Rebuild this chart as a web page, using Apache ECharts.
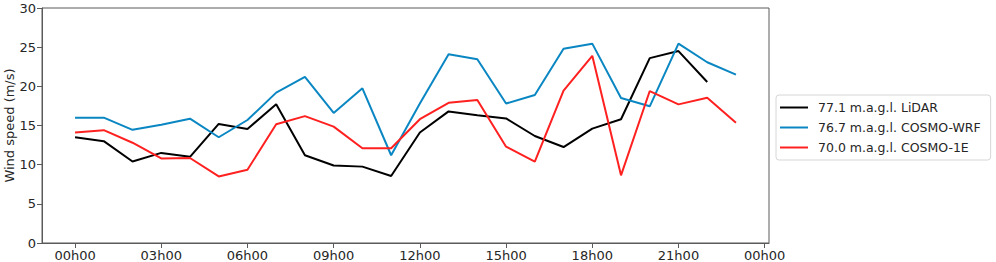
<!DOCTYPE html>
<html>
<head>
<meta charset="utf-8">
<script src="https://cdn.jsdelivr.net/npm/echarts@6/dist/echarts.min.js"></script>
<style>
  html, body { margin: 0; padding: 0; background: #fff; }
  #chart { width: 996px; height: 262px; }
</style>
</head>
<body>
<div id="chart"></div>
<script>
// hours after midnight, one sample per hour
var hours = [0, 1, 2, 3, 4, 5, 6, 7, 8, 9, 10, 11, 12, 13, 14, 15, 16, 17, 18, 19, 20, 21, 22, 23];
var tickHours = [0, 3, 6, 9, 12, 15, 18, 21, 24];
var tickLabels = ['00h00', '03h00', '06h00', '09h00', '12h00', '15h00', '18h00', '21h00', '00h00'];

var lidar = [13.5, 13.0, 10.4, 11.5, 11.0, 15.2, 14.55, 17.7, 11.2, 9.9, 9.75, 8.55,
  14.1, 16.8, 16.3, 15.9, 13.66, 12.25, 14.6, 15.8, 23.6, 24.5, 20.55];
var cosmoWrf = [16.0, 16.0, 14.45, 15.1, 15.87, 13.5, 15.7, 19.2, 21.2, 16.6, 19.75, 11.2,
  17.8, 24.1, 23.45, 17.8, 18.9, 24.8, 25.45, 18.5, 17.45, 25.45, 23.07, 21.5];
var cosmo1e = [14.1, 14.4, 12.8, 10.8, 10.85, 8.5, 9.35, 15.15, 16.2, 14.85, 12.1, 12.1,
  15.8, 17.9, 18.25, 12.3, 10.4, 19.45, 23.9, 8.64, 19.4, 17.7, 18.55, 15.36];

var seriesNames = ['77.1 m.a.g.l. LiDAR', '76.7 m.a.g.l. COSMO-WRF', '70.0 m.a.g.l. COSMO-1E'];
var seriesColors = ['#000000', '#0a87c2', '#ff2020'];

function pairs(vals) {
  return vals.map(function(v, i) { return [hours[i], v]; });
}

var chart = echarts.init(document.getElementById('chart'), null, { renderer: 'svg' });
var ink = '#262626', rule = '#5a5a5a', font = 'DejaVu Sans';

chart.setOption({
  animation: false,
  textStyle: { fontFamily: font },
  grid: {
    left: 42, right: 227, top: 8, bottom: 19, show: true,
    borderColor: rule, borderWidth: 1, outerBoundsMode: 'none', containLabel: false
  },
  legend: {
    orient: 'vertical', left: 776, top: 95,
    icon: 'rect', itemWidth: 28, itemHeight: 2, itemGap: 7,
    padding: [6, 10, 6, 4],
    borderColor: '#d6d6d6', borderWidth: 1, borderRadius: 3,
    textStyle: { color: ink, fontSize: 12.5, fontFamily: font, padding: [0, 0, 0, 5] },
    data: seriesNames
  },
  xAxis: {
    type: 'value', min: -1.15, max: 24.15,
    axisLine: { show: true, onZero: false, lineStyle: { color: rule } },
    splitLine: { show: false },
    axisTick: { show: true, length: 5, lineStyle: { color: rule }, customValues: tickHours },
    axisLabel: {
      color: ink, fontSize: 13, margin: 6, customValues: tickHours,
      formatter: function(v) { return tickLabels[tickHours.indexOf(v)]; }
    }
  },
  yAxis: {
    type: 'value', min: 0, max: 30, interval: 5,
    name: 'Wind speed (m/s)', nameLocation: 'middle', nameGap: 26, nameMoveOverlap: false,
    nameTextStyle: { color: ink, fontSize: 13 },
    axisLine: { show: true, onZero: false, lineStyle: { color: rule } },
    splitLine: { show: false },
    axisTick: { show: true, length: 5, lineStyle: { color: rule } },
    axisLabel: { color: ink, fontSize: 13, margin: 6 }
  },
  series: [lidar, cosmoWrf, cosmo1e].map(function(vals, i) {
    return {
      name: seriesNames[i], type: 'line', data: pairs(vals),
      symbol: 'none', lineStyle: { color: seriesColors[i], width: 2 },
      itemStyle: { color: seriesColors[i] }
    };
  })
});
</script>
</body>
</html>
